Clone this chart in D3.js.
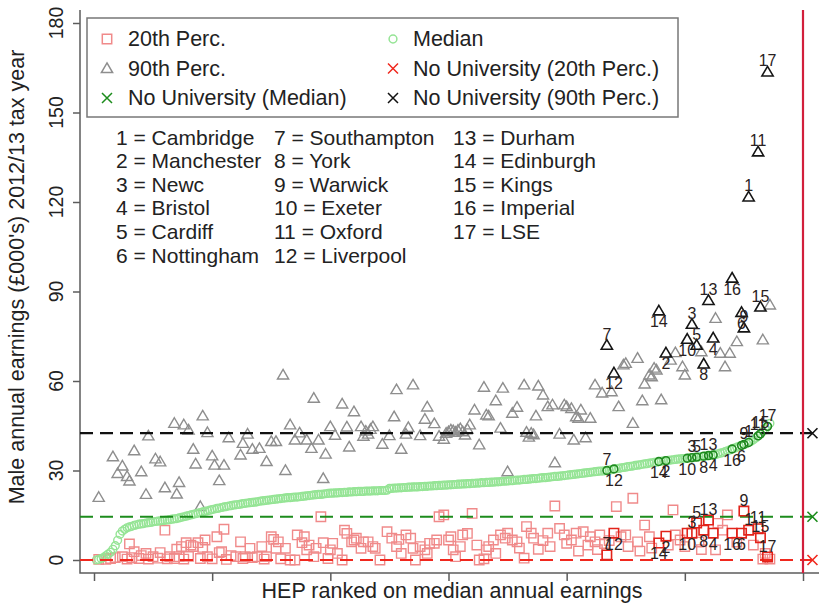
<!DOCTYPE html>
<html>
<head>
<meta charset="utf-8">
<script src="https://cdn.jsdelivr.net/npm/d3@7"></script>
<style>
  body { margin: 0; background: #fff; }
  svg { display: block; font-family: "Liberation Sans", Arial, sans-serif; }
</style>
</head>
<body>
<div id="chart"></div>
<script>
// median earnings, one value per HEP in rank order (rank = index + 1)
const median = [
  0, 0.2, 0.5, 0.8, 1.4, 2.0, 2.6, 3.6, 4.8, 6.6,
  8.6, 9.7, 10.3, 10.8, 11.1, 11.3, 11.6, 11.8, 12.0, 12.1,
  12.2, 12.4, 12.5, 12.6, 12.8, 12.9, 13.0, 13.1, 13.2, 13.3,
  13.4, 13.5, 13.7, 13.8, 13.9, 14.1, 14.3, 14.5, 14.7, 14.9,
  15.1, 15.3, 15.5, 15.7, 15.9, 16.1, 16.3, 16.5, 16.7, 16.9,
  17.1, 17.3, 17.4, 17.6, 17.8, 17.9, 18.1, 18.2, 18.4, 18.5,
  18.6, 18.7, 18.9, 19.0, 19.1, 19.2, 19.3, 19.4, 19.5, 19.7,
  19.8, 19.9, 20.0, 20.1, 20.2, 20.3, 20.4, 20.5, 20.6, 20.7,
  20.8, 20.9, 20.9, 21.0, 21.1, 21.1, 21.2, 21.3, 21.4, 21.5,
  21.6, 21.7, 21.8, 21.9, 22.0, 22.0, 22.1, 22.2, 22.3, 22.4,
  22.4, 22.5, 22.5, 22.6, 22.6, 22.7, 22.7, 22.8, 22.8, 22.9,
  22.9, 23.0, 23.0, 23.0, 23.1, 23.1, 23.1, 23.2, 23.2, 23.2,
  23.3, 23.3, 23.3, 23.4, 24.0, 24.0, 24.1, 24.1, 24.2, 24.2,
  24.3, 24.3, 24.4, 24.4, 24.5, 24.5, 24.5, 24.6, 24.6, 24.7,
  24.7, 24.8, 24.8, 24.9, 24.9, 25.0, 25.0, 25.1, 25.1, 25.2,
  25.2, 25.3, 25.3, 25.4, 25.4, 25.5, 25.5, 25.6, 25.6, 25.7,
  25.7, 25.8, 25.8, 25.9, 25.9, 26.0, 26.0, 26.1, 26.1, 26.2,
  26.2, 26.3, 26.4, 26.4, 26.5, 26.6, 26.6, 26.7, 26.8, 26.8,
  26.9, 27.0, 27.0, 27.1, 27.2, 27.3, 27.3, 27.4, 27.5, 27.6,
  27.6, 27.7, 27.8, 27.9, 28.0, 28.0, 28.1, 28.2, 28.3, 28.4,
  28.5, 28.6, 28.7, 28.8, 28.9, 29.0, 29.1, 29.2, 29.3, 29.4,
  29.5, 29.6, 29.7, 29.8, 29.8, 29.9, 30.0, 30.1, 30.3, 30.5,
  30.6, 30.7, 30.9, 31.0, 31.1, 31.3, 31.4, 31.5, 31.7, 31.8,
  31.9, 32.1, 32.2, 32.3, 32.5, 32.6, 32.7, 32.8, 33.0, 33.1,
  33.2, 33.3, 33.4, 33.5, 33.6, 33.7, 33.8, 33.9, 34.0, 34.0,
  34.1, 34.2, 34.3, 34.4, 34.5, 34.6, 34.7, 34.8, 34.9, 35.0,
  35.1, 35.2, 35.4, 35.6, 35.8, 36.0, 36.3, 36.6, 36.9, 37.2,
  37.5, 37.8, 38.1, 38.4, 38.7, 39.0, 39.4, 39.8, 40.3, 40.9,
  41.6, 42.3, 43.1, 43.9, 44.8, 45.8
];

// 20th percentile, [rank, value] (only where a marker can be seen)
const p20 = [
  [2,0.2],[5,0.2],[7,0.5],[9,0.8],[12,1.1],[14,0.3],[15,5.4],[16,0.8],[17,2.8],[19,0.5],
  [20,1.5],[22,2.2],[23,0.3],[25,1.1],[27,0.6],[28,2.5],[30,10],[31,0.4],[32,1.1],[34,0.5],
  [35,3.6],[36,1.1],[37,4.5],[38,0.3],[39,5.8],[40,1.2],[41,5],[42,4.5],[44,5.8],[45,0.5],
  [46,4.2],[47,6.7],[48,1.1],[50,0.4],[52,7.8],[53,2.5],[54,2.8],[55,10.3],[56,0.2],[58,1.5],
  [60,1.1],[62,6.1],[63,0.5],[64,1.1],[66,3.9],[67,0.8],[69,1.1],[71,4.5],[72,0.3],[73,1.1],
  [75,7.8],[76,6.9],[77,3.9],[78,6.1],[79,0.4],[81,3.9],[83,0],[85,0],[86,8.4],[88,5.8],
  [89,7.8],[90,3.4],[91,5],[93,1.1],[94,3.9],[96,14.5],[97,5.8],[99,0.5],[100,3.4],[101,5.6],
  [103,2.2],[105,0],[106,10],[107,8.9],[109,6.1],[110,6.7],[111,7.3],[113,3.9],[114,6.1],[116,6.1],
  [118,4.5],[119,3.9],[121,0],[124,9.5],[126,7.3],[128,4.5],[129,6.9],[130,2.2],[132,8.4],[134,7.3],
  [135,3.9],[136,0],[138,4.5],[140,3.4],[141,2.2],[142,5.6],[144,5.6],[145,6.7],[146,14.5],[148,15.1],
  [150,6.7],[151,7.8],[152,3.4],[153,1.1],[155,4.5],[156,8.4],[158,8.9],[160,15.6],[162,5],[163,0],
  [165,0.4],[166,3.4],[167,4.5],[169,6.7],[170,2.2],[172,8.4],[174,7.3],[175,9],[177,6.7],[179,6.1],
  [180,4],[182,0.6],[183,11.2],[185,9],[186,7.3],[188,3.6],[190,6.5],[192,9],[193,4.5],[195,18.1],
  [197,10.6],[199,8.4],[200,5.6],[202,6.7],[204,9],[205,3],[207,9.5],[209,5],[210,7.8],[212,6.1],
  [213,3.5],[214,8.4],[216,5.5],[217,1.7],[218,6.5],[220,9],[221,17.9],[223,7.8],[225,8.4],[226,4.5],
  [228,20.7],[230,6.1],[231,3],[233,11.7],[235,7.8],[236,4],[239,5.7],[242,8],[243,5],[245,16.8],
  [246,8.4],[248,6.7],[250,4.5],[251,9],[253,9],[255,12.4],[256,6],[257,3.5],[258,10],[260,13.4],
  [262,9],[263,3.4],[264,12.3],[266,10],[268,15.1],[270,9],[272,6],[274,9],[275,16.4],[277,10],
  [279,5],[281,10.5],[282,7.5],[283,0.3],[284,2.2],[285,1],[286,0.3]
];

// 90th percentile, [rank, value]
const p90 = [
  [2,21],[8,34.6],[10,29],[12,31.5],[14,28],[15,26.5],[17,36.6],[20,29.6],[22,22],[23,41.6],
  [26,33.9],[28,32.9],[30,24.2],[34,45.8],[35,22.1],[36,26],[38,45.3],[40,43.6],[42,37.1],[43,32.2],
  [45,17.9],[46,48.3],[48,42.7],[50,34.9],[51,31.8],[53,26.6],[55,31.8],[57,41],[62,35.2],[63,39.1],
  [65,42.2],[67,37.1],[70,37.4],[73,33],[75,39.7],[77,39.7],[80,62],[81,30],[83,45.3],[85,40.2],
  [87,42.6],[90,40.2],[92,37.4],[93,54.2],[95,40.2],[97,27.3],[98,35.5],[100,44.7],[102,41.8],[105,52.3],
  [107,44.6],[108,37.9],[110,49.7],[113,44.7],[114,41.5],[115,43.2],[116,42.2],[117,43.8],[118,44.7],[122,38.8],
  [125,41.7],[127,48],[128,57.1],[130,37.1],[132,42.2],[133,44.4],[135,58.7],[138,41.7],[140,47.2],[141,51.3],
  [144,45.7],[146,41.5],[148,40.5],[149,42.5],[150,43],[151,43.6],[152,43.3],[153,42.8],[154,43.5],[155,44],
  [156,43],[157,41.9],[158,43.8],[159,45.3],[161,50.3],[163,38.6],[165,57.9],[166,48.6],[167,48.3],[170,53.4],
  [172,44.2],[173,57.6],[175,29.6],[177,49.2],[179,51.2],[182,58.7],[183,42.8],[184,41.2],[185,42.5],[186,42],
  [187,48.3],[188,58.3],[190,55.3],[192,51.4],[194,52],[195,32.6],[197,42.2],[199,52],[200,51.4],[202,50.8],
  [203,40.2],[204,48],[205,47.5],[206,50.3],[208,41],[210,47.5],[212,58.7],[215,56],[217,72],[219,56.4],
  [220,62.7],[222,51.4],[224,65.4],[225,65.9],[228,45.8],[230,67.6],[232,53.4],[233,59],[235,62],[236,61.4],
  [237,64.3],[238,63.7],[239,83.5],[240,53.7],[242,69.4],[244,67],[246,69.5],[249,64.8],[250,62],[251,74],
  [253,79],[255,72],[257,69.8],[258,65.7],[260,87],[262,74.4],[263,81],[265,69.3],[267,64.8],[269,69.3],
  [270,94.5],[272,73.2],[274,83],[275,77.8],[277,121.7],[281,136.8],[282,84.8],[283,73.8],[285,163.6],[286,85.5]
];

// highlighted institutions: key number and rank
const labelIds   = [7, 12, 14, 2, 10, 3, 5, 8, 13, 4, 16, 6, 9, 1, 11, 15, 17];
const labelRanks = [217, 220, 239, 242, 251, 253, 255, 258, 260, 262, 270, 274, 275, 277, 281, 282, 285];

const keyNames = ['Cambridge', 'Manchester', 'Newc', 'Bristol', 'Cardiff', 'Nottingham',
  'Southampton', 'York', 'Warwick', 'Exeter', 'Oxford', 'Liverpool',
  'Durham', 'Edinburgh', 'Kings', 'Imperial', 'LSE'];

// no university reference values
const noUniP20 = 0, noUniMedian = 14.5, noUniP90 = 42.5;
const noUniRank = 304;
const cutRank = 300;

const yTicks = [0, 30, 60, 90, 120, 150, 180];
const xTicks = [0, 50, 100, 150, 200, 250, 300];

const legendLabels = ['20th Perc.', '90th Perc.', 'No University (Median)',
  'Median', 'No University (20th Perc.)', 'No University (90th Perc.)'];

// colours
const C = {
  sq: '#f08a8a', tri: '#8e8e8e', circ: '#95e495',
  sqHi: '#e2231a', triHi: '#151515', circHi: '#1f8a1f',
  lineBlack: '#111', lineGreen: '#1c8c1c', lineRed: '#f0281e',
  cut: '#d21f3c', axis: '#5c5c5c', text: '#222'
};

const W = 819, H = 605;
const plotLeft = 80, plotTop = 10, plotBottom = 573, plotRight = 819;

const svg = d3.select('#chart').append('svg')
  .attr('width', W).attr('height', H);

const x = d3.scaleLinear().domain([0, 300]).range([94, 803]);
const y = d3.scaleLinear().domain([0, 180]).range([560, 23]);

// marker shapes
function square(px, py) { const s = 4.7; return `M${px - s},${py - s}h${2 * s}v${2 * s}h${-2 * s}Z`; }
function triangle(px, py) { return `M${px},${py - 5.6}L${px + 5.6},${py + 4}L${px - 5.6},${py + 4}Z`; }
function cross(px, py) { const s = 5; return `M${px - s},${py - s}L${px + s},${py + s}M${px - s},${py + s}L${px + s},${py - s}`; }
function circle(px, py) { const r = 3.9; return `M${px - r},${py}a${r},${r} 0 1,0 ${2 * r},0a${r},${r} 0 1,0 ${-2 * r},0`; }

const isLabelled = r => labelRanks.includes(r);
const medPts = median.map((v, i) => [i + 1, v]);

// axes
svg.append('g')
  .attr('transform', `translate(${plotLeft},0)`)
  .call(d3.axisLeft(y).tickValues(yTicks).tickSize(7).tickFormat(''))
  .call(g => g.select('.domain').remove())
  .call(g => g.selectAll('line').attr('stroke', C.axis).attr('stroke-width', 1.5));

svg.append('g')
  .attr('transform', `translate(0,${plotBottom})`)
  .call(d3.axisBottom(x).tickValues(xTicks).tickSize(8).tickFormat(''))
  .call(g => g.select('.domain').remove())
  .call(g => g.selectAll('line').attr('stroke', C.axis).attr('stroke-width', 1.5));

svg.append('path')
  .attr('d', `M${plotLeft},${plotTop}V${plotBottom}H${plotRight}`)
  .attr('fill', 'none').attr('stroke', C.axis).attr('stroke-width', 1.5);

svg.append('g').selectAll('text').data(yTicks).join('text')
  .attr('transform', d => `translate(63,${y(d)}) rotate(-90)`)
  .attr('text-anchor', 'middle')
  .attr('font-size', 19.5).attr('fill', C.text)
  .text(d => d);

svg.append('text')
  .attr('transform', `translate(24,277) rotate(-90)`)
  .attr('text-anchor', 'middle')
  .attr('font-size', 21.5).attr('fill', C.text)
  .text("Male annual earnings (£000's) 2012/13 tax year");

svg.append('text')
  .attr('x', 452).attr('y', 598)
  .attr('text-anchor', 'middle')
  .attr('font-size', 21.5).attr('fill', C.text)
  .text('HEP ranked on median annual earnings');

// base points
const pts = svg.append('g').attr('fill', 'none').attr('stroke-width', 1.4);

pts.selectAll('path.sq').data(p20.filter(d => !isLabelled(d[0]))).join('path')
  .attr('class', 'sq').attr('stroke', C.sq)
  .attr('d', d => square(x(d[0]), y(d[1])));

pts.selectAll('path.tri').data(p90.filter(d => !isLabelled(d[0]))).join('path')
  .attr('class', 'tri').attr('stroke', C.tri)
  .attr('d', d => triangle(x(d[0]), y(d[1])));

pts.selectAll('path.circ').data(medPts.filter(d => !isLabelled(d[0]))).join('path')
  .attr('class', 'circ').attr('stroke', C.circ)
  .attr('d', d => circle(x(d[0]), y(d[1])));

// reference lines
const refLines = [[noUniP90, C.lineBlack], [noUniMedian, C.lineGreen], [noUniP20, C.lineRed]];
svg.append('g').selectAll('line').data(refLines).join('line')
  .attr('x1', plotLeft).attr('x2', plotRight)
  .attr('y1', d => y(d[0])).attr('y2', d => y(d[0]))
  .attr('stroke', d => d[1]).attr('stroke-width', 2.2)
  .attr('stroke-dasharray', '13,7');

svg.append('line')
  .attr('x1', x(cutRank)).attr('x2', x(cutRank))
  .attr('y1', plotTop).attr('y2', plotBottom)
  .attr('stroke', C.cut).attr('stroke-width', 2.2);

svg.append('g').attr('stroke-width', 1.6).selectAll('path').data(refLines).join('path')
  .attr('stroke', d => d[1])
  .attr('d', d => cross(x(noUniRank), y(d[0])));

// highlighted institutions
const hi = svg.append('g').attr('fill', 'none').attr('stroke-width', 1.6);
const hiData = labelIds.map((id, k) => {
  const r = labelRanks[k];
  return {
    id, r,
    p20: p20.find(d => d[0] === r)[1],
    med: median[r - 1],
    p90: p90.find(d => d[0] === r)[1]
  };
});

hi.selectAll('path.sq').data(hiData).join('path')
  .attr('class', 'sq').attr('stroke', C.sqHi)
  .attr('d', d => square(x(d.r), y(d.p20)));
hi.selectAll('path.tri').data(hiData).join('path')
  .attr('class', 'tri').attr('stroke', C.triHi)
  .attr('d', d => triangle(x(d.r), y(d.p90)));
hi.selectAll('path.circ').data(hiData).join('path')
  .attr('class', 'circ').attr('stroke', C.circHi)
  .attr('d', d => circle(x(d.r), y(d.med)));

// number labels: odd above, even below
const lab = svg.append('g')
  .attr('font-size', 16).attr('fill', '#2a2222')
  .attr('text-anchor', 'middle').attr('dominant-baseline', 'central');
['p20', 'med', 'p90'].forEach(key => {
  lab.selectAll(`text.${key}`).data(hiData).join('text')
    .attr('class', key)
    .attr('x', d => x(d.r))
    .attr('y', d => y(d[key]) + (d.id % 2 ? -11 : 11))
    .text(d => d.id);
});

// legend
const lg = svg.append('g');
lg.append('rect')
  .attr('x', 87).attr('y', 18).attr('width', 591).attr('height', 99)
  .attr('fill', '#fff').attr('stroke', '#777').attr('stroke-width', 1.5);

const legendShapes = [
  [square, C.sq], [triangle, C.tri], [cross, C.lineGreen],
  [circle, C.circ], [cross, C.lineRed], [cross, C.lineBlack]
];
legendLabels.forEach((t, k) => {
  const col = Math.floor(k / 3), row = k % 3;
  const sx = col ? 393 : 107, tx = col ? 413 : 128;
  const cy = 39 + row * 29.5;
  lg.append('path')
    .attr('d', legendShapes[k][0](sx, cy))
    .attr('fill', 'none').attr('stroke', legendShapes[k][1]).attr('stroke-width', 1.5);
  lg.append('text')
    .attr('x', tx).attr('y', cy)
    .attr('dominant-baseline', 'central')
    .attr('font-size', 21.5).attr('fill', C.text)
    .text(t);
});

// institution key
const keyCols = [116, 274, 453];
svg.append('g').selectAll('text').data(keyNames).join('text')
  .attr('x', (d, i) => keyCols[Math.floor(i / 6)])
  .attr('y', (d, i) => 137 + (i % 6) * 23.6)
  .attr('dominant-baseline', 'central')
  .attr('font-size', 21).attr('fill', C.text)
  .text((d, i) => `${i + 1} = ${d}`);
</script>
</body>
</html>
